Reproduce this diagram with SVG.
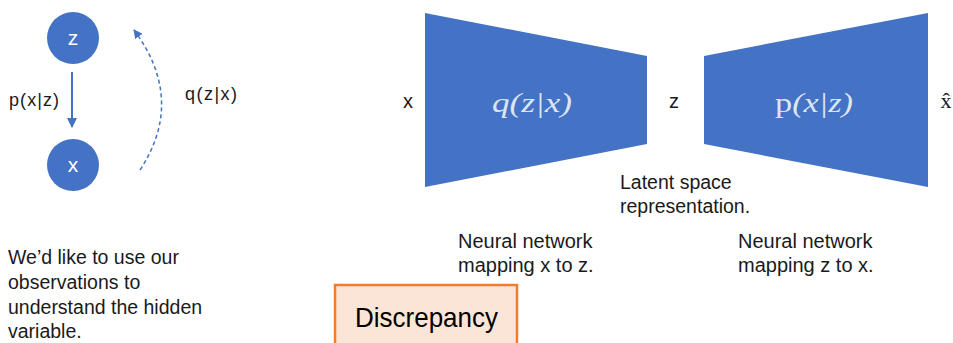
<svg xmlns="http://www.w3.org/2000/svg" width="953" height="343" viewBox="0 0 953 343">
<style>
.t{font-family:"Liberation Sans",Arial,sans-serif;fill:#1a1a1a}
.node{fill:#4472C4}
.w{font-family:"Liberation Sans",Arial,sans-serif;fill:#ffffff;font-size:21px}
.m{font-family:"Liberation Serif","Times New Roman",serif;fill:#dde5f4;font-size:27px}
.edge{stroke:#4472C4;fill:none}
</style>
<defs>
<marker id="ah" viewBox="0 0 10 10" refX="9" refY="5" markerWidth="5" markerHeight="5" orient="auto">
<path d="M0,0 L10,5 L0,10 z" fill="#4472C4"/>
</marker>
<marker id="ah2" viewBox="0 0 10 10" refX="9" refY="5" markerWidth="6" markerHeight="6" orient="auto">
<path d="M0,0 L10,5 L0,10 z" fill="#4472C4"/>
</marker>
</defs>
<rect width="953" height="343" fill="#ffffff"/>

<g id="node-z">
<circle class="node" cx="73" cy="38" r="26"/>
<text class="w" x="73" y="45" text-anchor="middle">z</text>
</g>
<g id="node-x">
<circle class="node" cx="73" cy="165" r="26"/>
<text class="w" x="73" y="172" text-anchor="middle">x</text>
</g>

<g id="connectors">
<line class="edge" x1="72" y1="72" x2="72" y2="127" stroke-width="2" marker-end="url(#ah)"/>
<path class="edge" d="M140,170 Q186,100 134,30" stroke-width="1.5" stroke-dasharray="4,3" marker-end="url(#ah2)"/>
</g>

<g id="labels-left">
<text class="t" x="9" y="106" font-size="18" textLength="50">p(x|z)</text>
<text class="t" x="185" y="100" font-size="18" textLength="52">q(z|x)</text>
<text class="t" font-size="19.5">
<tspan x="8" y="264">We’d like to use our</tspan>
<tspan x="8" y="289">observations to</tspan>
<tspan x="8" y="314">understand the hidden</tspan>
<tspan x="8" y="338">variable.</tspan>
</text>
</g>

<g id="encoder">
<polygon class="node" points="425,13 647,56 647,144 425,187"/>
<text class="m" x="492" y="112" textLength="80" lengthAdjust="spacingAndGlyphs" font-style="italic">q(z|x)</text>
</g>
<g id="decoder">
<polygon class="node" points="704,56 928,13 928,187 704,144"/>
<text class="m" x="775" y="112" textLength="78" lengthAdjust="spacingAndGlyphs"><tspan font-style="normal">p</tspan><tspan font-style="italic">(x|z)</tspan></text>
</g>

<g id="labels-right">
<text class="t" x="408" y="108" font-size="20" text-anchor="middle">x</text>
<text class="t" x="674" y="108" font-size="20" text-anchor="middle">z</text>
<text x="946" y="108" font-size="22" text-anchor="middle" style="font-family:'Liberation Serif','Times New Roman',serif;fill:#1a1a1a">x̂</text>
<text class="t" font-size="19.5">
<tspan x="620" y="189">Latent space</tspan>
<tspan x="620" y="213">representation.</tspan>
</text>
<text class="t" font-size="20">
<tspan x="458" y="248">Neural network</tspan>
<tspan x="458" y="272">mapping x to z.</tspan>
</text>
<text class="t" font-size="20">
<tspan x="738" y="248">Neural network</tspan>
<tspan x="738" y="272">mapping z to x.</tspan>
</text>
</g>

<g id="discrepancy">
<rect x="335" y="285" width="182" height="70" fill="#FBE5D6" stroke="#ED7D31" stroke-width="2.5"/>
<text x="355" y="327" font-size="28" textLength="143" lengthAdjust="spacingAndGlyphs" style="font-family:'Liberation Sans',Arial,sans-serif;fill:#000000">Discrepancy</text>
</g>
</svg>
